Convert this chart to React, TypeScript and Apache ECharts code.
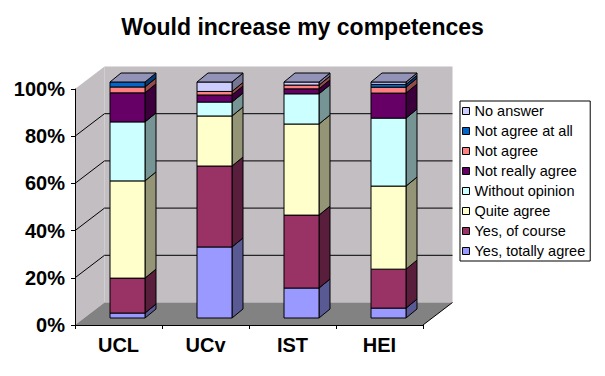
import React, { useEffect, useRef } from "react";
import * as echarts from "echarts";

const categories = ["UCL", "UCv", "IST", "HEI"];
const seriesNames = [
  "Yes, totally agree",
  "Yes, of course",
  "Quite agree",
  "Without opinion",
  "Not really agree",
  "Not agree",
  "Not agree at all",
  "No answer",
];
const yesTotallyAgree = [2.1, 30.1, 12.7, 4.2];
const yesOfCourse = [14.8, 34.3, 30.9, 16.5];
const quiteAgree = [41.2, 21.2, 38.6, 35.2];
const withoutOpinion = [25.0, 5.9, 12.8, 28.8];
const notReallyAgree = [12.3, 3.0, 2.1, 10.6];
const notAgree = [2.5, 1.5, 1.6, 2.5];
const notAgreeAtAll = [2.1, 0, 0, 1.2];
const noAnswer = [0, 4.0, 1.3, 1.0];
const seriesValues = [
  yesTotallyAgree,
  yesOfCourse,
  quiteAgree,
  withoutOpinion,
  notReallyAgree,
  notAgree,
  notAgreeAtAll,
  noAnswer,
];
const seriesColors = [
  "#9999FF",
  "#993366",
  "#FFFFCC",
  "#CCFFFF",
  "#660066",
  "#FF8080",
  "#0066CC",
  "#CCCCFF",
];
const gridTicks = [20, 40, 60, 80];

const FONT = "'Liberation Sans', Arial, sans-serif";
const WALL_DX = 29.5;
const WALL_DY = -22.5;
const BAR_OX = 9;
const BAR_OY = -7;
const BAR_W = 35;
const BAR_DX = 11;
const BAR_DY = -9;

function shade(hex: string, f: number) {
  const n = parseInt(hex.slice(1), 16);
  const r = Math.round(((n >> 16) & 255) * f);
  const g = Math.round(((n >> 8) & 255) * f);
  const b = Math.round((n & 255) * f);
  return `rgb(${r},${g},${b})`;
}

export default function App() {
  const ref = useRef<HTMLDivElement>(null);
  useEffect(() => {
    if (!ref.current) return;
    const chart = echarts.init(ref.current, null, { renderer: "svg" });

    const wallSeries: any = {
      type: "custom",
      silent: true,
      z: 0,
      data: [[0, 0]],
      renderItem: (params: any, api: any) => {
        const cs = params.coordSys;
        const x0 = cs.x,
          y0 = cs.y,
          w = cs.width,
          h = cs.height;
        const children: any[] = [];
        children.push({
          type: "rect",
          shape: { x: x0 + WALL_DX, y: y0 + WALL_DY, width: w, height: h },
          style: { fill: "#C2BEC2" },
        });
        children.push({
          type: "polygon",
          shape: {
            points: [
              [x0, y0],
              [x0 + WALL_DX, y0 + WALL_DY],
              [x0 + WALL_DX, y0 + h + WALL_DY],
              [x0, y0 + h],
            ],
          },
          style: { fill: "#C2BEC2" },
        });
        children.push({
          type: "polygon",
          shape: {
            points: [
              [x0, y0 + h],
              [x0 + w, y0 + h],
              [x0 + w + WALL_DX, y0 + h + WALL_DY],
              [x0 + WALL_DX, y0 + h + WALL_DY],
            ],
          },
          style: { fill: "#828282" },
        });
        gridTicks.forEach((v) => {
          const yv = api.coord([0, v])[1];
          children.push({
            type: "line",
            shape: { x1: x0, y1: yv, x2: x0 + WALL_DX, y2: yv + WALL_DY },
            style: { stroke: "#000", lineWidth: 1 },
          });
          children.push({
            type: "line",
            shape: {
              x1: x0 + WALL_DX,
              y1: yv + WALL_DY,
              x2: x0 + w + WALL_DX,
              y2: yv + WALL_DY,
            },
            style: { stroke: "#000", lineWidth: 1 },
          });
        });
        children.push({
          type: "line",
          shape: {
            x1: x0 + w,
            y1: y0 + h,
            x2: x0 + w + WALL_DX,
            y2: y0 + h + WALL_DY,
          },
          style: { stroke: "#000", lineWidth: 1 },
        });
        return { type: "group", children };
      },
    };

    const barSeries = seriesNames.map((name, si) => {
      const data = categories.map((_, ci) => {
        let base = 0;
        for (let k = 0; k < si; k++) base += seriesValues[k][ci];
        return [ci, base, base + seriesValues[si][ci]];
      });
      const isLast = si === seriesNames.length - 1;
      const color = seriesColors[si];
      return {
        type: "custom",
        name,
        z: 2 + si,
        itemStyle: { color },
        data,
        renderItem: (params: any, api: any) => {
          const ci = api.value(0);
          const b = api.value(1);
          const t = api.value(2);
          const pb = api.coord([ci, b]);
          const pt = api.coord([ci, t]);
          const L = pb[0] + BAR_OX - BAR_W / 2;
          const R = L + BAR_W;
          const yb = pb[1] + BAR_OY;
          const yt = pt[1] + BAR_OY;
          const children: any[] = [];
          if (t - b > 0) {
            children.push({
              type: "polygon",
              shape: {
                points: [
                  [R, yt],
                  [R + BAR_DX, yt + BAR_DY],
                  [R + BAR_DX, yb + BAR_DY],
                  [R, yb],
                ],
              },
              style: { fill: shade(color, 0.58), stroke: "#000", lineWidth: 1 },
            });
            children.push({
              type: "rect",
              shape: { x: L, y: yt, width: BAR_W, height: yb - yt },
              style: { fill: color, stroke: "#000", lineWidth: 1 },
            });
          }
          if (isLast) {
            children.push({
              type: "polygon",
              shape: {
                points: [
                  [L, yt],
                  [R, yt],
                  [R + BAR_DX, yt + BAR_DY],
                  [L + BAR_DX, yt + BAR_DY],
                ],
              },
              style: { fill: shade(color, 0.72), stroke: "#000", lineWidth: 1 },
            });
          }
          return { type: "group", children };
        },
      };
    });

    chart.setOption({
      animation: false,
      backgroundColor: "#fff",
      title: {
        text: "Would increase my competences",
        left: "center",
        top: 15,
        padding: 0,
        textStyle: {
          fontFamily: FONT,
          fontSize: 23,
          fontWeight: "bold",
          color: "#000",
        },
      },
      legend: {
        data: seriesNames.slice().reverse(),
        orient: "vertical",
        left: 460,
        top: 101,
        padding: [0, 5, 0, 2],
        itemWidth: 7,
        itemHeight: 7,
        itemGap: 0,
        itemTextGap: 8,
        icon: "rect",
        selectedMode: false,
        borderColor: "#000",
        borderWidth: 1,
        backgroundColor: "#fff",
        itemStyle: { borderColor: "#000", borderWidth: 1 },
        textStyle: {
          fontFamily: FONT,
          fontSize: 14.5,
          lineHeight: 20,
          color: "#000",
        },
      },
      grid: { left: 75, top: 89, width: 348, height: 236 },
      xAxis: {
        type: "category",
        data: categories,
        axisLine: { show: true, lineStyle: { color: "#000", width: 1 } },
        axisTick: {
          show: true,
          interval: 0,
          length: 4,
          lineStyle: { color: "#000" },
        },
        axisLabel: {
          margin: 10,
          fontFamily: FONT,
          fontSize: 20,
          fontWeight: "bold",
          color: "#000",
        },
        splitLine: { show: false },
      },
      yAxis: {
        type: "value",
        min: 0,
        max: 100,
        interval: 20,
        axisLine: { show: true, lineStyle: { color: "#000", width: 1 } },
        axisTick: { show: true, length: 4, lineStyle: { color: "#000" } },
        axisLabel: {
          margin: 10,
          formatter: "{value}%",
          fontFamily: FONT,
          fontSize: 20,
          fontWeight: "bold",
          color: "#000",
        },
        splitLine: { show: false },
      },
      series: [wallSeries, ...barSeries],
    });
    return () => chart.dispose();
  }, []);
  return (
    <div
      ref={ref}
      style={{
        position: "fixed",
        left: 0,
        top: 0,
        width: 605,
        height: 376,
        background: "#fff",
      }}
    />
  );
}
